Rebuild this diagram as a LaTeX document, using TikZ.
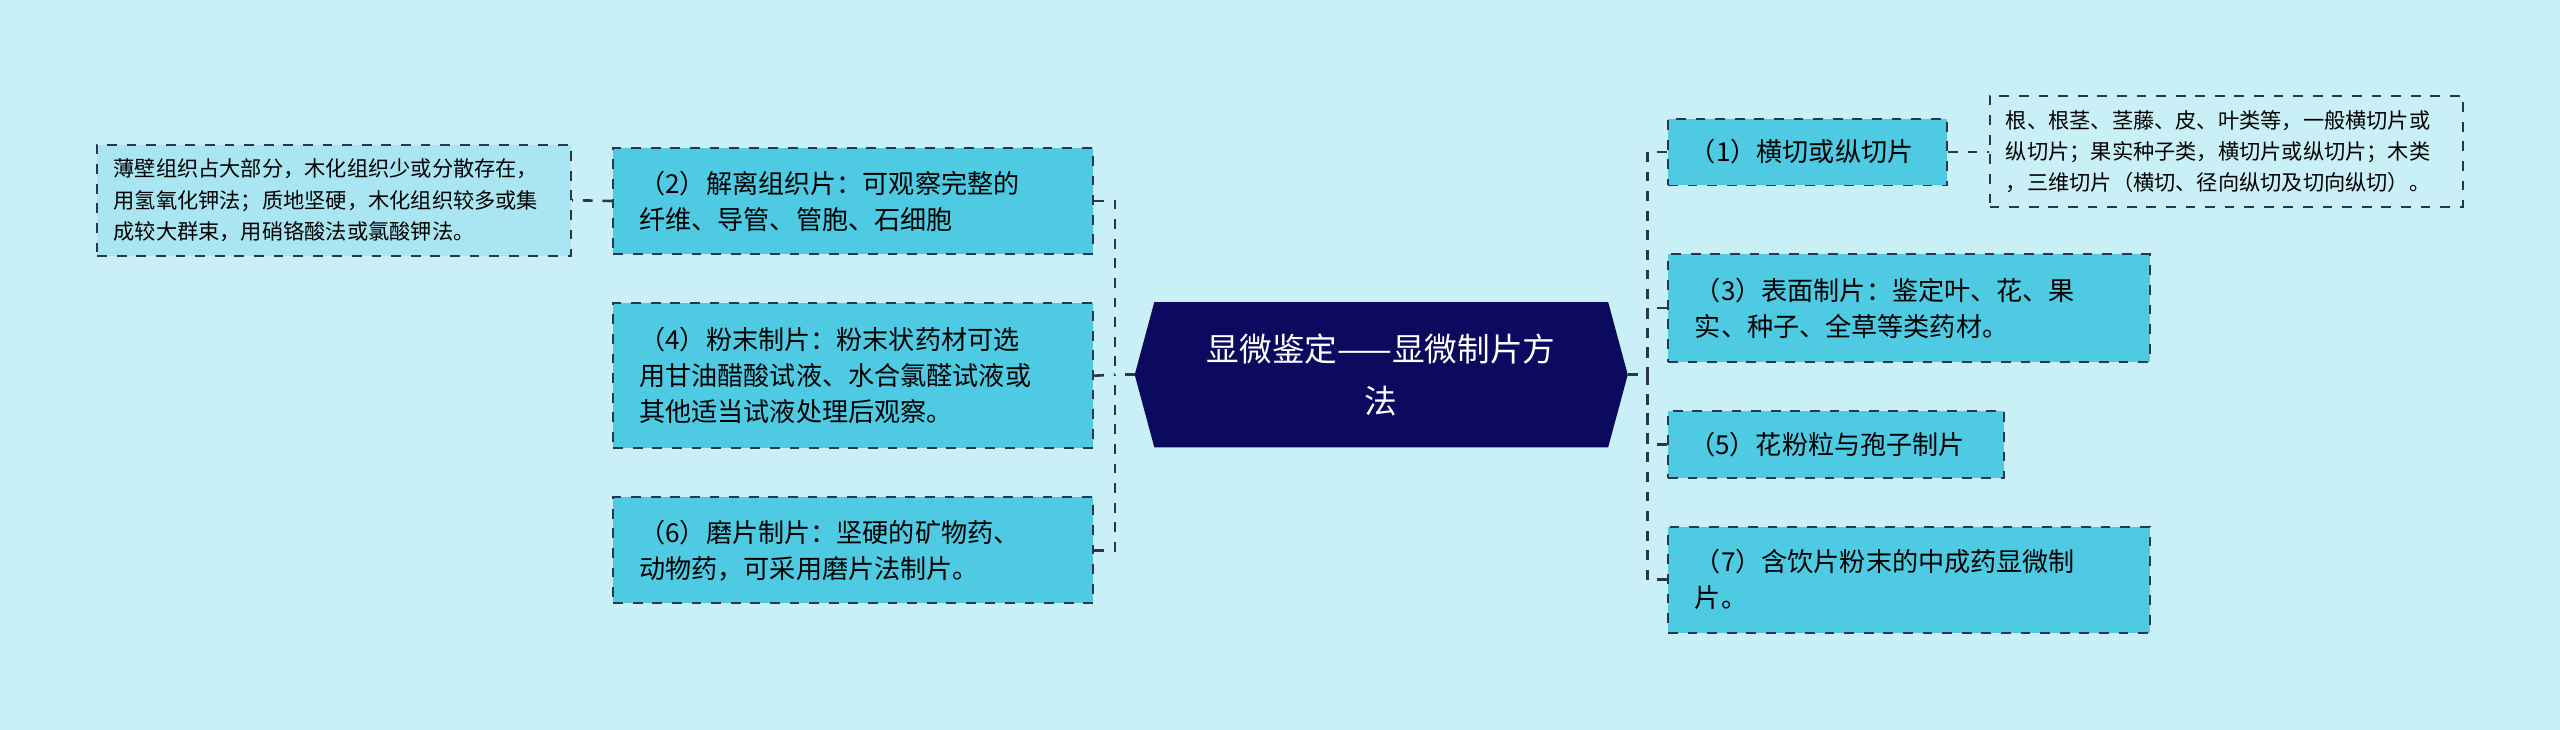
\documentclass[tikz,border=0pt]{standalone}
\usepackage{fontspec}
\setmainfont{Noto Sans CJK SC}
\definecolor{bg}{HTML}{C9F0F6}
\definecolor{nodef}{HTML}{4ECBE3}
\definecolor{leaff}{HTML}{A9E6F1}
\definecolor{edge}{HTML}{2A3550}
\definecolor{hub}{HTML}{0B0A5E}
\tikzset{x=0.5pt,y=-0.5pt,
 box/.style={draw=edge,dashed,line width=0.6pt,fill=nodef,anchor=north west,inner sep=0pt,align=left,font=\fontsize{8}{11}\selectfont},
 leaf/.style={draw=edge,dashed,line width=0.6pt,anchor=north west,inner sep=0pt,align=left,font=\fontsize{6.5}{9.5}\selectfont},
 conn/.style={draw=edge,dashed,line width=0.8pt}}
\begin{document}
\begin{tikzpicture}
\fill[bg] (0,0) rectangle (1568,447);
\useasboundingbox (0,0) rectangle (1568,447);
% hub
\fill[hub] (707,185) -- (985,185) -- (997,229.5) -- (985,274) -- (707,274) -- (695,229.5) -- cycle;
\node[text=white,align=center,font=\fontsize{10}{16}\selectfont] (hub) at (846,229.5) {显微鉴定——显微制片方\\法};
\coordinate (hl) at (695,229.5); \coordinate (hr) at (997,229.5);
% left
\node[box,minimum width=147pt,minimum height=32.5pt,text width=139pt] (n2) at (375,90) {\hspace*{4pt}（2）解离组织片：可观察完整的\\\hspace*{4pt}纤维、导管、管胞、石细胞};
\node[box,minimum width=147pt,minimum height=44.5pt,text width=139pt] (n4) at (375,185) {\hspace*{4pt}（4）粉末制片：粉末状药材可选\\\hspace*{4pt}用甘油醋酸试液、水合氯醛试液或\\\hspace*{4pt}其他适当试液处理后观察。};
\node[box,minimum width=147pt,minimum height=32.5pt,text width=139pt] (n6) at (375,304) {\hspace*{4pt}（6）磨片制片：坚硬的矿物药、\\\hspace*{4pt}动物药，可采用磨片法制片。};
\node[leaf,fill=leaff,minimum width=145pt,minimum height=34pt,text width=141pt] (l2) at (59,88) {\hspace*{3pt}薄壁组织占大部分，木化组织少或分散存在，\\\hspace*{3pt}用氢氧化钾法；质地坚硬，木化组织较多或集\\\hspace*{3pt}成较大群束，用硝铬酸法或氯酸钾法。};
% right
\node[box,minimum width=85.5pt,minimum height=20.5pt,text width=80pt] (n1) at (1021,72) {\hspace*{4pt}（1）横切或纵切片};
\node[box,minimum width=147.5pt,minimum height=33pt,text width=139pt] (n3) at (1021,155) {\hspace*{4pt}（3）表面制片：鉴定叶、花、果\\\hspace*{4pt}实、种子、全草等类药材。};
\node[box,minimum width=103pt,minimum height=20.5pt,text width=98pt] (n5) at (1021,251) {\hspace*{4pt}（5）花粉粒与孢子制片};
\node[box,minimum width=147.5pt,minimum height=32.5pt,text width=139pt] (n7) at (1021,322) {\hspace*{4pt}（7）含饮片粉末的中成药显微制\\\hspace*{4pt}片。};
\node[leaf,minimum width=145pt,minimum height=34pt,text width=141pt] (r1) at (1218,58) {\hspace*{3pt}根、根茎、茎藤、皮、叶类等，一般横切片或\\\hspace*{3pt}纵切片；果实种子类，横切片或纵切片；木类\\\hspace*{3pt}，三维切片（横切、径向纵切及切向纵切）。};
% connectors
\draw[conn] (hl) -- (683,229.5);
\draw[conn] (n2.east) -| (683,229.5);
\draw[conn] (n4.east) -- (683,229.5);
\draw[conn] (n6.east) -| (683,229.5);
\draw[conn] (hr) -- (1009,229.5);
\draw[conn] (n1.west) -| (1009,229.5);
\draw[conn] (n3.west) -| (1009,229.5);
\draw[conn] (n5.west) -| (1009,229.5);
\draw[conn] (n7.west) -| (1009,229.5);
\draw[conn] (n2.west) -- (l2.east);
\draw[conn] (n1.east) -- (r1.west |- n1.east);
\end{tikzpicture}
\end{document}
